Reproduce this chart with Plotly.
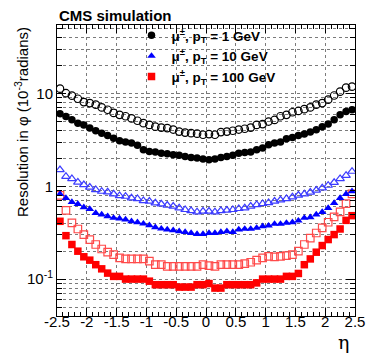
import plotly.graph_objects as go

eta = [-2.45, -2.35, -2.25, -2.15, -2.05, -1.95, -1.85, -1.75, -1.65, -1.55,
       -1.45, -1.35, -1.25, -1.15, -1.05, -0.95, -0.85, -0.75, -0.65, -0.55,
       -0.45, -0.35, -0.25, -0.15, -0.05,
       0.05, 0.15, 0.25, 0.35, 0.45, 0.55, 0.65, 0.75, 0.85, 0.95,
       1.05, 1.15, 1.25, 1.35, 1.45, 1.55, 1.65, 1.75, 1.85, 1.95,
       2.05, 2.15, 2.25, 2.35, 2.45]

pt1_open = [11.3, 10.1, 9.5, 8.8, 8.1, 7.9, 7.6, 7.1, 6.7, 6.2, 5.9, 5.7, 5.4, 5.1, 4.8,
            4.6, 4.4, 4.3, 4.25, 4.1, 3.9, 3.8, 3.75, 3.7, 3.6,
            3.66, 3.6, 3.85, 3.9, 3.98, 4.1, 4.18, 4.3, 4.6, 4.69, 5.0, 5.2, 5.7, 5.9, 6.3,
            6.5, 6.8, 7.1, 7.6, 7.9, 8.6, 9.55, 10.5, 11.6, 11.9]
pt1_full = [6.07, 5.67, 5.22, 4.8, 4.6, 4.25, 3.98, 3.75, 3.54, 3.31, 3.1, 3.0, 2.93, 2.77, 2.48,
            2.38, 2.34, 2.28, 2.25, 2.19, 2.16, 2.1, 2.05, 2.02, 1.97,
            1.94, 1.97, 2.05, 2.1, 2.16, 2.28, 2.32, 2.34, 2.48, 2.59, 2.81, 2.93, 3.0, 3.26, 3.37,
            3.54, 3.66, 3.85, 4.08, 4.4, 4.69, 5.22, 5.9, 6.42, 6.7]
pt10_open = [1.51, 1.28, 1.21, 1.11, 1.04, 0.976, 0.92, 0.883, 0.869, 0.826, 0.794, 0.78, 0.748,
             0.736, 0.701, 0.69, 0.661, 0.645, 0.624, 0.609, 0.584, 0.561, 0.547, 0.529, 0.538,
             0.538, 0.529, 0.547, 0.552, 0.561, 0.575, 0.584, 0.609, 0.635, 0.651, 0.667, 0.69,
             0.712, 0.736, 0.767, 0.8, 0.826, 0.862, 0.906, 0.959, 1.025, 1.10, 1.21, 1.31, 1.45]
pt10_full = [0.826, 0.748, 0.678, 0.645, 0.594, 0.570, 0.516, 0.496, 0.475, 0.456, 0.449, 0.438,
             0.42, 0.41, 0.396, 0.38, 0.362, 0.35, 0.342, 0.336, 0.328, 0.322, 0.314, 0.306, 0.306,
             0.314, 0.314, 0.322, 0.328, 0.322, 0.342, 0.347, 0.347, 0.356, 0.371, 0.377, 0.393,
             0.393, 0.403, 0.41, 0.427, 0.456, 0.464, 0.496, 0.529, 0.584, 0.661, 0.748, 0.826, 0.883]
pt100_open = [0.80, 0.552, 0.403, 0.347, 0.302, 0.267, 0.236, 0.211, 0.195, 0.184, 0.169, 0.165,
              0.165, 0.165, 0.165, 0.156, 0.143, 0.143, 0.137, 0.137, 0.137, 0.137, 0.137, 0.137, 0.143,
              0.14, 0.137, 0.143, 0.143, 0.143, 0.143, 0.147, 0.152, 0.16, 0.169, 0.176, 0.174, 0.176,
              0.179, 0.184, 0.2, 0.236, 0.277, 0.314, 0.356, 0.41, 0.468, 0.53, 0.65, 0.83]
pt100_full = [0.42, 0.294, 0.236, 0.2, 0.174, 0.16, 0.143, 0.129, 0.116, 0.107, 0.107, 0.1, 0.1,
              0.1, 0.1, 0.095, 0.087, 0.087, 0.087, 0.087, 0.082, 0.082, 0.082, 0.087, 0.087,
              0.0895, 0.080, 0.080, 0.087, 0.087, 0.087, 0.087, 0.087, 0.091, 0.1, 0.1, 0.1, 0.1,
              0.107, 0.107, 0.115, 0.143, 0.165, 0.195, 0.23, 0.267, 0.302, 0.347, 0.43, 0.483]

x_tickvals = [-2.5, -2, -1.5, -1, -0.5, 0, 0.5, 1, 1.5, 2, 2.5]
x_ticktext = ["-2.5", "-2", "-1.5", "-1", "-0.5", "0", "0.5", "1", "1.5", "2", "2.5"]
x_minor = [-2.4, -2.3, -2.2, -2.1, -1.9, -1.8, -1.7, -1.6, -1.4, -1.3, -1.2, -1.1,
           -0.9, -0.8, -0.7, -0.6, -0.4, -0.3, -0.2, -0.1, 0.1, 0.2, 0.3, 0.4,
           0.6, 0.7, 0.8, 0.9, 1.1, 1.2, 1.3, 1.4, 1.6, 1.7, 1.8, 1.9, 2.1, 2.2, 2.3, 2.4]
y_tickvals = [0.1, 1, 10]
y_ticktext = ["10<sup>-1</sup>", "1", "10"]
y_minor = [0.05, 0.06, 0.07, 0.08, 0.09, 0.2, 0.3, 0.4, 0.5, 0.6, 0.7, 0.8, 0.9,
           2, 3, 4, 5, 6, 7, 8, 9, 20, 30, 40, 50]

legend_labels = ["μ<sup>±</sup>, p<sub>T</sub> = 1 GeV",
                 "μ<sup>±</sup>, p<sub>T</sub> = 10 GeV",
                 "μ<sup>±</sup>, p<sub>T</sub> = 100 GeV"]

fig = go.Figure()

def add(y, color, symbol, name=None, show=False, lw=1.2):
    fig.add_trace(go.Scatter(
        x=eta, y=y, mode="markers", name=name or "", showlegend=show,
        marker=dict(symbol=symbol, size=7.5, color=color,
                    line=dict(color=color, width=lw if "open" in symbol else 0)),
    ))

add(pt1_open, "black", "circle-open")
add(pt10_open, "#3c3cff", "triangle-up-open")
add(pt100_open, "#ff4a4a", "square-open")
add(pt1_full, "black", "circle", legend_labels[0], True)
add(pt10_full, "#0000ff", "triangle-up", legend_labels[1], True)
add(pt100_full, "#ff0000", "square", legend_labels[2], True)

grid = dict(showgrid=True, gridcolor="#7a7a7a", griddash="dot", gridwidth=1)

fig.update_layout(
    width=374, height=355,
    margin=dict(l=49, r=27, t=17, b=47),
    paper_bgcolor="white", plot_bgcolor="white",
    font=dict(family="Liberation Sans, Arial, sans-serif", color="black"),
    xaxis=dict(range=[-2.5, 2.5], tickmode="array", tickvals=x_tickvals, ticktext=x_ticktext,
               ticks="inside", ticklen=8, tickcolor="black", mirror="allticks",
               showline=True, linecolor="black", linewidth=1, zeroline=False,
               tickfont=dict(size=15), ticklabelstandoff=-8, **grid,
               minor=dict(tickmode="array", tickvals=x_minor, ticks="inside", ticklen=4,
                          tickcolor="black", showgrid=False)),
    yaxis=dict(type="log", range=[-1.398, 1.74], tickmode="array", tickvals=y_tickvals,
               ticktext=y_ticktext, ticks="inside", ticklen=9, tickcolor="black",
               mirror="allticks", showline=True, linecolor="black", linewidth=1,
               zeroline=False, tickfont=dict(size=15), **grid,
               minor=dict(tickmode="array", tickvals=y_minor, ticks="inside", ticklen=5,
                          tickcolor="black", showgrid=True, gridcolor="#7a7a7a",
                          griddash="dot", gridwidth=1)),
    legend=dict(x=0.25, y=1.017, xanchor="left", yanchor="top", bgcolor="rgba(255,255,255,0)",
                font=dict(size=13.5, weight="bold"), itemwidth=30, tracegroupgap=0),
    annotations=[
        dict(text="<b>CMS simulation</b>", xref="paper", yref="paper", x=0, y=1,
             xanchor="left", yanchor="bottom", yshift=-1, showarrow=False,
             font=dict(size=15)),
        dict(text="Resolution in φ (10<sup>-3</sup>radians)", xref="paper", yref="paper",
             x=0, y=1, xshift=-36, xanchor="center", yanchor="top", textangle=-90,
             showarrow=False, font=dict(size=15)),
        dict(text="η", xref="paper", yref="paper", x=0.962, y=0, yshift=-13,
             xanchor="center", yanchor="top", showarrow=False,
             font=dict(size=19, family="DejaVu Serif, serif")),
    ],
)

fig.write_html("out.html")
